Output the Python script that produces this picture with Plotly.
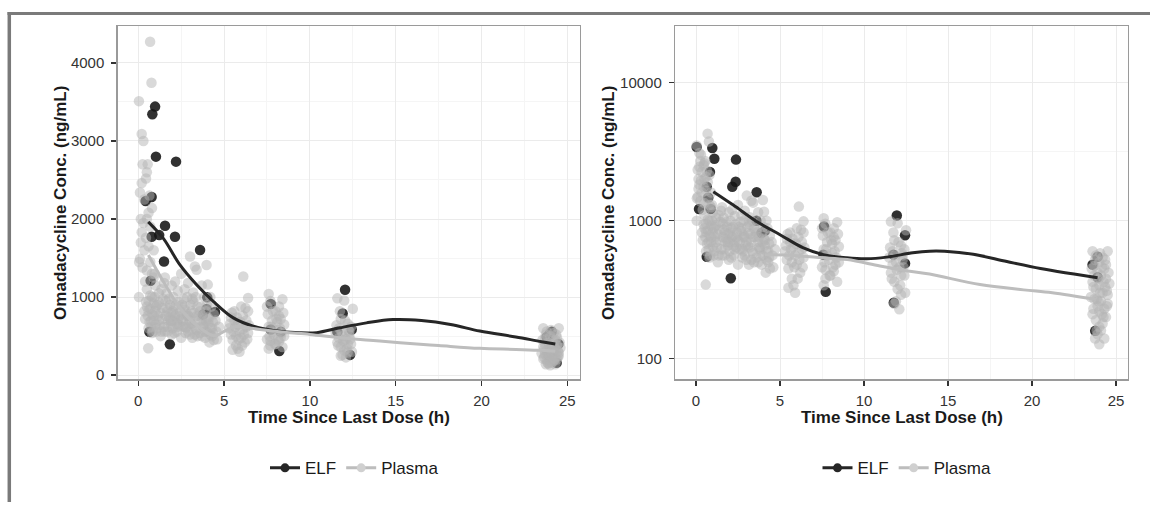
import plotly.graph_objects as go

W, H = 1150, 506

# ---------------- data ----------------
# ELF observations (left, linear panel: jittered times)
elf_time_lin = [0.98, 0.82, 1.03, 2.20, 0.43, 0.78, 1.56, 2.14, 0.78, 1.22, 1.50, 3.60, 0.72,
                0.65, 1.84, 4.02, 3.98, 4.47, 3.77, 7.72, 7.72, 8.30, 8.22, 12.05, 11.91, 11.60,
                12.44, 12.34, 23.80, 24.09, 23.95, 24.48, 24.38]
elf_conc_lin = [3440, 3342, 2799, 2735, 2231, 2282, 1913, 1773, 1773, 1794, 1455, 1603, 1209,
                556, 395, 997, 848, 810, 776, 912, 585, 556, 310, 1094, 789, 556,
                585, 260, 489, 556, 520, 400, 160]

# ELF observations (right, log panel: jittered times)
elf_time_log = [0.04, 0.97, 1.09, 2.38, 0.83, 2.36, 2.16, 0.64, 0.73, 3.61, 0.18, 0.87, 3.60,
                4.10, 3.90, 0.64, 2.07, 7.62, 7.58, 7.72, 11.95, 12.44, 11.75, 12.44, 11.77,
                23.90, 23.60, 23.90, 23.76]
elf_conc_log = [3414, 3357, 2810, 2768, 2256, 1915, 1762, 1762, 1468, 1604, 1216, 1216, 998,
                845, 813, 547, 382, 908, 567, 305, 1089, 783, 567, 490, 254,
                548, 480, 389, 159]

# Plasma observations
plasma_time = [
    # early high values
    0.04, 0.69, 0.77, 0.20, 0.30, 0.55, 0.50, 0.45, 0.20, 0.10, 0.35, 0.80, 0.60, 0.50, 0.30,
    0.70, 0.20, 0.45, 0.15, 0.60, 0.35, 0.10, 0.05, 0.25, 0.50, 0.80, 0.04, 0.58, 0.90, 0.70,
    0.40, 0.15, 0.65, 0.25, 0.90,
    # dense early cloud
    0.50, 0.60, 0.70, 0.80, 0.90, 1.00, 1.10, 1.20, 1.30, 1.40, 0.55, 0.65, 0.75, 0.85, 0.95,
    1.05, 1.15, 1.25, 1.35, 1.45, 0.60, 0.90, 1.20, 1.50, 1.00, 0.80,
    1.60, 1.70, 1.80, 1.90, 2.00, 2.10, 2.20, 2.30, 2.40, 1.55, 1.65, 1.75, 1.85, 1.95, 2.05,
    2.15, 2.25, 2.35, 2.45, 1.70, 2.00, 2.30, 2.50, 1.90,
    2.60, 2.70, 2.80, 2.90, 3.00, 3.10, 3.20, 3.30, 3.40, 2.65, 2.75, 2.85, 2.95, 3.05, 3.15,
    3.25, 3.35, 3.45, 2.90, 3.02, 3.30, 3.98, 2.70, 3.20, 2.50,
    3.60, 3.70, 3.80, 3.90, 4.00, 4.10, 4.20, 4.30, 4.40, 4.50, 3.65, 3.75, 3.85, 3.95, 4.05,
    4.15, 4.25, 4.35, 3.40, 4.20, 3.70, 4.40,
    0.40, 0.50, 0.60, 0.70, 0.80, 0.90, 1.00, 1.10, 1.20, 1.30, 1.40, 1.50, 1.60, 1.70, 1.80,
    1.90, 2.00, 2.10, 2.20, 2.30, 2.40, 2.50, 2.60, 2.70, 2.80, 2.90, 3.00, 3.10, 3.20, 3.30,
    3.40, 3.50, 3.60, 3.70, 3.80, 3.90, 4.00, 4.10, 4.20, 4.30,
    0.45, 0.75, 1.05, 1.35, 1.65, 1.95, 2.25, 2.55, 2.85, 3.15, 3.45, 3.75, 4.05, 4.35, 0.35,
    0.95, 1.55, 2.15, 2.75, 3.35, 3.95, 4.55, 4.60, 4.70,
    # ~6 h
    5.30, 5.40, 5.50, 5.60, 5.70, 5.80, 5.90, 6.00, 6.10, 6.20, 6.30, 6.40, 5.50, 5.90, 6.12,
    6.40, 5.60, 6.00, 5.40, 6.30, 5.80, 6.10, 6.40, 5.70,
    5.35, 5.45, 5.55, 5.65, 5.75, 5.85, 5.95, 6.05, 6.15, 6.25, 6.35, 6.45,
    # ~8 h
    7.60, 8.40, 7.70, 7.50, 8.00, 8.20, 7.80, 8.50, 7.60, 8.10, 7.90, 8.30, 7.70, 8.00, 8.40,
    7.60, 8.20, 7.80, 8.10, 8.50, 7.50, 8.30,
    7.55, 7.65, 7.75, 7.85, 7.95, 8.05, 8.15, 8.25, 8.35, 8.45, 7.70, 8.20,
    # ~12 h
    12.00, 12.50, 11.60, 11.80, 12.20, 11.70, 12.30, 11.90, 12.10, 11.60, 12.40, 11.80, 12.00,
    12.20, 11.90, 12.10, 11.70, 12.30, 12.40, 11.50,
    11.55, 11.65, 11.75, 11.85, 11.95, 12.05, 12.15, 12.25, 12.35, 12.45, 11.80, 12.20,
    # ~24 h
    23.60, 24.50, 23.80, 24.20, 24.00, 23.70, 24.30, 23.90, 24.10, 24.40, 23.60, 24.00, 23.80,
    24.20, 24.50, 23.70, 24.10, 23.90, 24.30, 24.00, 23.60, 24.40, 23.80, 24.20, 24.00, 24.10,
    23.90, 24.30, 24.00, 24.50, 23.50, 24.60, 23.70, 24.40,
    23.55, 23.65, 23.75, 23.85, 23.95, 24.05, 24.15, 24.25, 24.35, 24.45, 24.55, 23.65, 23.85,
    24.15, 24.35, 24.05, 23.75, 24.25, 23.95, 24.45,
]
plasma_conc = [
    3510, 4270, 3745, 3090, 3000, 2700, 2600, 2520, 2460, 2340, 2250, 2140, 2080, 2000, 1950,
    1900, 1830, 1760, 1700, 1650, 1600, 1490, 1450, 1380, 1340, 1300, 1000, 344, 1250, 1450,
    1200, 2000, 2300, 2700, 1600,
    1100, 950, 850, 780, 700, 650, 900, 1050, 800, 720, 760, 680, 620, 560, 1000,
    880, 760, 640, 560, 980, 830, 920, 700, 1180, 1150, 1000,
    950, 820, 740, 660, 600, 880, 780, 700, 640, 560, 1050, 700, 900, 520, 1000,
    760, 560, 940, 820, 620, 700, 1080, 720, 800,
    620, 880, 760, 560, 700, 820, 640, 520, 760, 980, 540, 1000, 660, 900, 480,
    800, 600, 880, 1180, 1519, 1392, 1412, 1100, 1060, 1300,
    540, 700, 620, 480, 560, 660, 520, 600, 450, 700, 880, 760, 1000, 820, 740,
    420, 880, 540, 1350, 1000, 1150, 780,
    720, 880, 600, 1020, 540, 760, 820, 600, 930, 500, 860, 620, 760, 560, 980,
    700, 820, 540, 900, 620, 760, 480, 700, 840, 600, 760, 520, 660, 940, 700,
    580, 760, 820, 500, 640, 560, 900, 720, 600, 500,
    940, 700, 560, 1100, 860, 1150, 660, 900, 780, 980, 500, 640, 1160, 680, 820,
    1300, 1250, 1200, 620, 1000, 700, 560, 460, 620,
    600, 520, 450, 700, 380, 650, 560, 480, 760, 420, 620, 540, 326, 300, 1264,
    988, 820, 880, 740, 700, 340, 590, 820, 500,
    660, 800, 560, 620, 740, 460, 680, 380, 520, 860, 460, 640,
    1040, 973, 950, 880, 820, 760, 700, 650, 620, 580, 520, 480, 440, 400, 360,
    340, 880, 560, 680, 500, 460, 720,
    780, 500, 620, 820, 400, 720, 460, 600, 540, 800, 380, 430,
    957, 851, 984, 720, 660, 600, 560, 500, 460, 420, 400, 360, 320,
    290, 260, 228, 480, 520, 620, 540,
    640, 380, 820, 560, 440, 700, 340, 580, 460, 300, 250, 400,
    600, 600, 560, 540, 500, 470, 450, 420, 400, 380, 360, 340, 320,
    300, 290, 270, 260, 240, 230, 220, 210, 200, 190, 180, 170, 160,
    150, 140, 127, 250, 280, 350, 400, 480,
    450, 330, 520, 270, 380, 300, 460, 200, 330, 240, 420, 230, 160,
    210, 520, 580, 140, 360, 260, 310,
]

# Smooth (loess) curves
elf_fit_time_lin = [0.58, 1.46, 2.43, 3.40, 4.37, 5.54, 6.70, 7.87, 9.40, 10.40, 11.75, 13.30,
                    14.85, 16.50, 18.20, 19.90, 22.00, 23.50, 24.30]
elf_fit_conc_lin = [1964, 1752, 1412, 1158, 946, 734, 628, 573, 543, 545, 607, 670,
                    712, 700, 650, 565, 490, 429, 400]
plasma_fit_time_lin = [0.59, 1.46, 2.43, 3.40, 4.40, 5.00, 5.60, 6.30, 7.10, 8.50, 10.00, 11.75,
                       13.50, 15.25, 17.50, 19.90, 22.00, 23.50, 24.30]
plasma_fit_conc_lin = [1540, 1201, 861, 640, 505, 560, 620, 610, 585, 550, 522, 480,
                       448, 416, 380, 344, 330, 318, 305]

elf_fit_time_log = [1.03, 2.22, 3.61, 5.00, 6.39, 7.58, 8.97, 10.16, 11.35, 12.90, 13.90, 14.80,
                    16.50, 18.50, 20.50, 22.50, 23.90]
elf_fit_conc_log = [1622, 1297, 986, 791, 634, 567, 538, 529, 544, 585, 601, 600,
                    570, 505, 450, 410, 385]
plasma_fit_time_log = [4.10, 5.50, 7.40, 9.00, 10.95, 12.60, 13.90, 16.90, 19.50, 21.20, 23.80]
plasma_fit_conc_log = [565, 562, 540, 522, 469, 432, 410, 344, 315, 300, 268]

x_ticks = [0, 5, 10, 15, 20, 25]
y_ticks_lin = [0, 1000, 2000, 3000, 4000]
y_ticks_log = [100, 1000, 10000]
series_names = ["ELF", "Plasma"]

# ---------------- styles ----------------
FONT = "Liberation Sans, Arial, Helvetica, sans-serif"
ELF_PT = "rgba(20,20,20,0.88)"
PL_PT = "rgba(180,180,180,0.5)"
ELF_LINE = "#262626"
PL_LINE = "#bdbdbd"
MS = 10.5

fig = go.Figure()

def add_panel(xa, ya, et, ec, eft, efc, pft, pfc, leg):
    fig.add_trace(go.Scatter(x=et, y=ec, mode="markers", xaxis=xa, yaxis=ya,
                             marker=dict(size=MS, color=ELF_PT, line=dict(width=0)),
                             showlegend=False, hoverinfo="skip"))
    fig.add_trace(go.Scatter(x=plasma_time, y=plasma_conc, mode="markers", xaxis=xa, yaxis=ya,
                             marker=dict(size=MS, color=PL_PT, line=dict(width=0)),
                             showlegend=False, hoverinfo="skip"))
    fig.add_trace(go.Scatter(x=eft, y=efc, mode="lines", xaxis=xa, yaxis=ya,
                             line=dict(color=ELF_LINE, width=3, shape="spline", smoothing=1.0),
                             showlegend=False, hoverinfo="skip"))
    fig.add_trace(go.Scatter(x=pft, y=pfc, mode="lines", xaxis=xa, yaxis=ya,
                             line=dict(color=PL_LINE, width=3, shape="spline", smoothing=1.0),
                             showlegend=False, hoverinfo="skip"))
    # legend entries
    fig.add_trace(go.Scatter(x=[None], y=[None], mode="lines+markers", name=series_names[0],
                             xaxis=xa, yaxis=ya, legend=leg,
                             line=dict(color=ELF_LINE, width=3),
                             marker=dict(size=9, color="#262626")))
    fig.add_trace(go.Scatter(x=[None], y=[None], mode="lines+markers", name=series_names[1],
                             xaxis=xa, yaxis=ya, legend=leg,
                             line=dict(color=PL_LINE, width=3),
                             marker=dict(size=9, color="#d0d0d0")))

add_panel("x", "y", elf_time_lin, elf_conc_lin, elf_fit_time_lin, elf_fit_conc_lin,
          plasma_fit_time_lin, plasma_fit_conc_lin, "legend")
add_panel("x2", "y2", elf_time_log, elf_conc_log, elf_fit_time_log, elf_fit_conc_log,
          plasma_fit_time_log, plasma_fit_conc_log, "legend2")

def px(x):
    return x / W

def py(y):
    return 1 - y / H

axis_common = dict(
    showline=True, mirror=True, linecolor="#9a9a9a", linewidth=1.2,
    ticks="outside", ticklen=5, tickwidth=1.5, tickcolor="#333333",
    tickfont=dict(family=FONT, size=15, color="#333333"),
    showgrid=True, gridcolor="#ebebeb", gridwidth=1, zeroline=False,
)

ydom = [py(382.5), py(26)]

fig.update_layout(
    width=W, height=H, autosize=False,
    margin=dict(l=0, r=0, t=0, b=0),
    paper_bgcolor="white", plot_bgcolor="white",
    font=dict(family=FONT, color="#1a1a1a"),
    xaxis=dict(domain=[px(117.5), px(580)], range=[-1.21, 25.74], anchor="y",
               tickmode="array", tickvals=x_ticks, ticklabelstandoff=2,
               minor=dict(tickmode="array", tickvals=[2.5, 7.5, 12.5, 17.5, 22.5],
                          showgrid=True, gridcolor="#f5f5f5", ticklen=0),
               **axis_common),
    yaxis=dict(domain=ydom, range=[-55, 4475], anchor="x",
               tickmode="array", tickvals=y_ticks_lin, ticklabelstandoff=4,
               minor=dict(tickmode="array", tickvals=[500, 1500, 2500, 3500],
                          showgrid=True, gridcolor="#f5f5f5", ticklen=0),
               **axis_common),
    xaxis2=dict(domain=[px(675), px(1128)], range=[-1.25, 25.71], anchor="y2",
                tickmode="array", tickvals=x_ticks, ticklabelstandoff=2,
                minor=dict(tickmode="array", tickvals=[2.5, 7.5, 12.5, 17.5, 22.5],
                           showgrid=True, gridcolor="#f5f5f5", ticklen=0),
                **axis_common),
    yaxis2=dict(domain=ydom, type="log", range=[1.849, 4.412], anchor="x2",
                tickmode="array", tickvals=y_ticks_log, ticktext=[str(v) for v in y_ticks_log],
                ticklabelstandoff=4,
                minor=dict(tickmode="array", tickvals=[316.23, 3162.3],
                           showgrid=True, gridcolor="#f5f5f5", ticklen=0),
                **axis_common),
    legend=dict(orientation="h", x=px(354.5), y=py(472), xanchor="center", yanchor="middle",
                font=dict(family=FONT, size=17, color="#1a1a1a"), bgcolor="rgba(0,0,0,0)",
                itemclick=False, itemdoubleclick=False),
    legend2=dict(orientation="h", x=px(907), y=py(472), xanchor="center", yanchor="middle",
                 font=dict(family=FONT, size=17, color="#1a1a1a"), bgcolor="rgba(0,0,0,0)",
                 itemclick=False, itemdoubleclick=False),
    shapes=[
        dict(type="line", xref="paper", yref="paper", x0=px(7.5), x1=1.0, y0=py(13.5), y1=py(13.5),
             line=dict(color="#7a7a7a", width=3)),
        dict(type="line", xref="paper", yref="paper", x0=px(9.3), x1=px(9.3), y0=py(12), y1=0,
             line=dict(color="#7a7a7a", width=3.5)),
    ],
    annotations=[
        dict(text="<b>Time Since Last Dose (h)</b>", xref="paper", yref="paper",
             x=px(349), y=py(421), xanchor="center", yanchor="middle", showarrow=False,
             font=dict(family=FONT, size=17, color="#1a1a1a")),
        dict(text="<b>Time Since Last Dose (h)</b>", xref="paper", yref="paper",
             x=px(901.5), y=py(421), xanchor="center", yanchor="middle", showarrow=False,
             font=dict(family=FONT, size=17, color="#1a1a1a")),
        dict(text="<b>Omadacycline Conc. (ng/mL)</b>", xref="paper", yref="paper",
             x=px(61), y=py(204.5), xanchor="center", yanchor="middle", showarrow=False,
             textangle=-90, font=dict(family=FONT, size=17, color="#1a1a1a")),
        dict(text="<b>Omadacycline Conc. (ng/mL)</b>", xref="paper", yref="paper",
             x=px(609), y=py(204.5), xanchor="center", yanchor="middle", showarrow=False,
             textangle=-90, font=dict(family=FONT, size=17, color="#1a1a1a")),
    ],
)

fig.write_html("out.html", config={"displayModeBar": False, "staticPlot": True})
